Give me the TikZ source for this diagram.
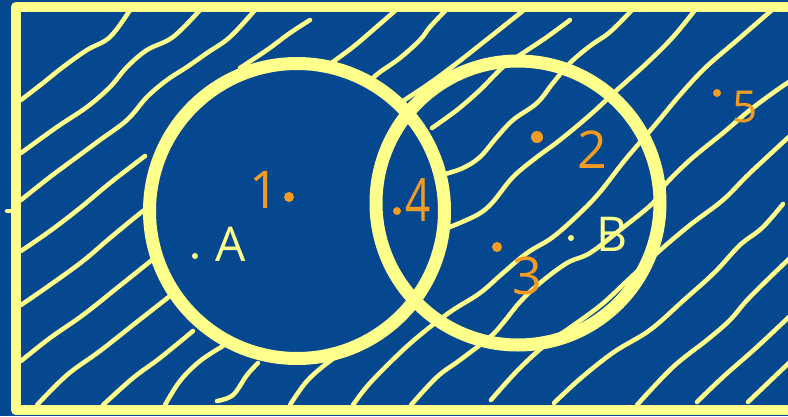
\documentclass[tikz,border=0pt]{standalone}
\usepackage{fontspec}
\setmainfont{Open Sans}
\definecolor{bg}{RGB}{5,72,143}
\definecolor{yel}{RGB}{255,255,140}
\definecolor{org}{RGB}{244,156,34}
\tikzset{
  hatch/.style={draw=yel, line width=4.5pt, line cap=round, line join=round},
  ring/.style={draw=yel, line width=13pt},
  olab/.style={text=org, font=\fontsize{52}{52}\selectfont, inner sep=0pt},
  ylab/.style={text=yel, font=\fontsize{48}{48}\selectfont, inner sep=0pt},
}
\newcommand{\hl}[1]{\draw[hatch] plot[smooth, tension=0.6] coordinates {#1};}
\begin{document}
\begin{tikzpicture}[x=1pt,y=-1pt]
\useasboundingbox (0,0) rectangle (788,416);
\fill[bg] (0,0) rectangle (788,416);
% hatching of the complement of A
\begin{scope}
  \clip (16,7) rectangle (800,409);
  % left of A
  \hl{(21,100) (43,83) (63,67) (87,50) (110,37) (130,10)}
  \hl{(21,153) (57,127) (87,107) (110,87) (127,67) (147,50) (173,37) (200,10)}
  \hl{(21,200) (50,177) (77,157) (100,140) (127,120) (147,97) (167,80) (187,67) (207,53) (230,37) (255,10)}
  \hl{(21,251) (50,231) (80,208) (110,183) (145,156)}
  \hl{(21,305) (50,285) (83,261) (110,238) (143,211) (155,203)}
  \hl{(21,361) (50,338) (83,315) (117,288) (152,260)}
  \hl{(37,405) (67,375) (100,351) (133,325) (170,296)}
  \hl{(103,405) (133,378) (160,358) (193,331)}
  \hl{(165,405) (180,381) (200,361) (223,346)}
  \hl{(217,401) (233,395) (247,375) (258,363)}
  \hl{(290,405) (307,381) (330,361) (355,345) (383,330)}
  % above A
  \hl{(240,68) (267,50) (290,33) (310,20)}
  \hl{(330,64) (353,47) (373,30) (396,10)}
  \hl{(373,78) (380,72) (400,58) (420,40) (430,27) (446,10)}
  \hl{(403,101) (430,83) (457,63) (490,37) (524,10)}
  % inside B and to its right
  \hl{(432,128) (457,110) (480,90) (503,67) (523,53) (547,37) (570,20)}
  \hl{(445,174) (463,168) (480,157) (497,137) (513,120) (537,103) (553,83) (570,63) (590,46) (610,32) (632,10)}
  \hl{(450,227) (477,215) (492,203) (513,177) (537,157) (560,140) (590,115) (617,90) (647,63) (673,37) (695,10)}
  \hl{(353,405) (370,383) (403,350) (430,327) (453,310) (480,293) (503,273) (527,253) (553,237) (580,213) (600,192) (625,160) (655,125) (680,95) (705,68) (735,42) (772,10)}
  \hl{(411,405) (437,377) (460,360) (490,337) (503,323) (520,302) (540,283) (567,263) (590,253) (620,230) (653,203) (663,187) (690,160) (723,133) (750,110) (777,90) (792,80)}
  \hl{(491,400) (517,371) (544,346) (571,327) (601,305) (627,281) (657,253) (690,225) (723,200) (750,173) (792,134)}
  \hl{(554,403) (581,378) (614,352) (650,330) (684,300) (715,272) (740,245) (762,228) (783,204)}
  \hl{(637,405) (673,367) (707,340) (730,320) (750,297) (792,256)}
  \hl{(697,402) (723,377) (757,347) (792,314)}
  \hl{(748,402) (792,360)}
\end{scope}
% set A covers the hatching
\fill[bg] (297,211) circle[radius=147];
% frame
\draw[draw=yel, line width=10.5pt, line join=round] (16,7) rectangle (800,410);
\draw[draw=yel, line width=4.5pt, line cap=round] (7,211) -- (16,211);
% circles
\draw[ring] (297,211) circle[radius=147.5];
\draw[ring] (518,203) circle[radius=142];
% labels
\node[olab] (n1) at (264,190) {1};
\fill[org] (289,197) circle[radius=5];
\node[ylab] (nA) at (231,244) {A};
\fill[yel] (195,256) circle[radius=3];
\node[olab, xscale=0.85, yscale=1.15] (n4) at (418,200) {4};
\fill[org] (397,211) circle[radius=4];
\node[olab] (n2) at (592,150) {2};
\fill[org] (537,137) circle[radius=6];
\node[olab] (n3) at (527,276) {3};
\fill[org] (497,247) circle[radius=5];
\node[ylab] (nB) at (612,234) {B};
\fill[yel] (571,238) circle[radius=3];
\node[olab, font=\fontsize{44}{44}\selectfont] (n5) at (745,107) {5};
\fill[org] (717,93) circle[radius=4];
\end{tikzpicture}
\end{document}
